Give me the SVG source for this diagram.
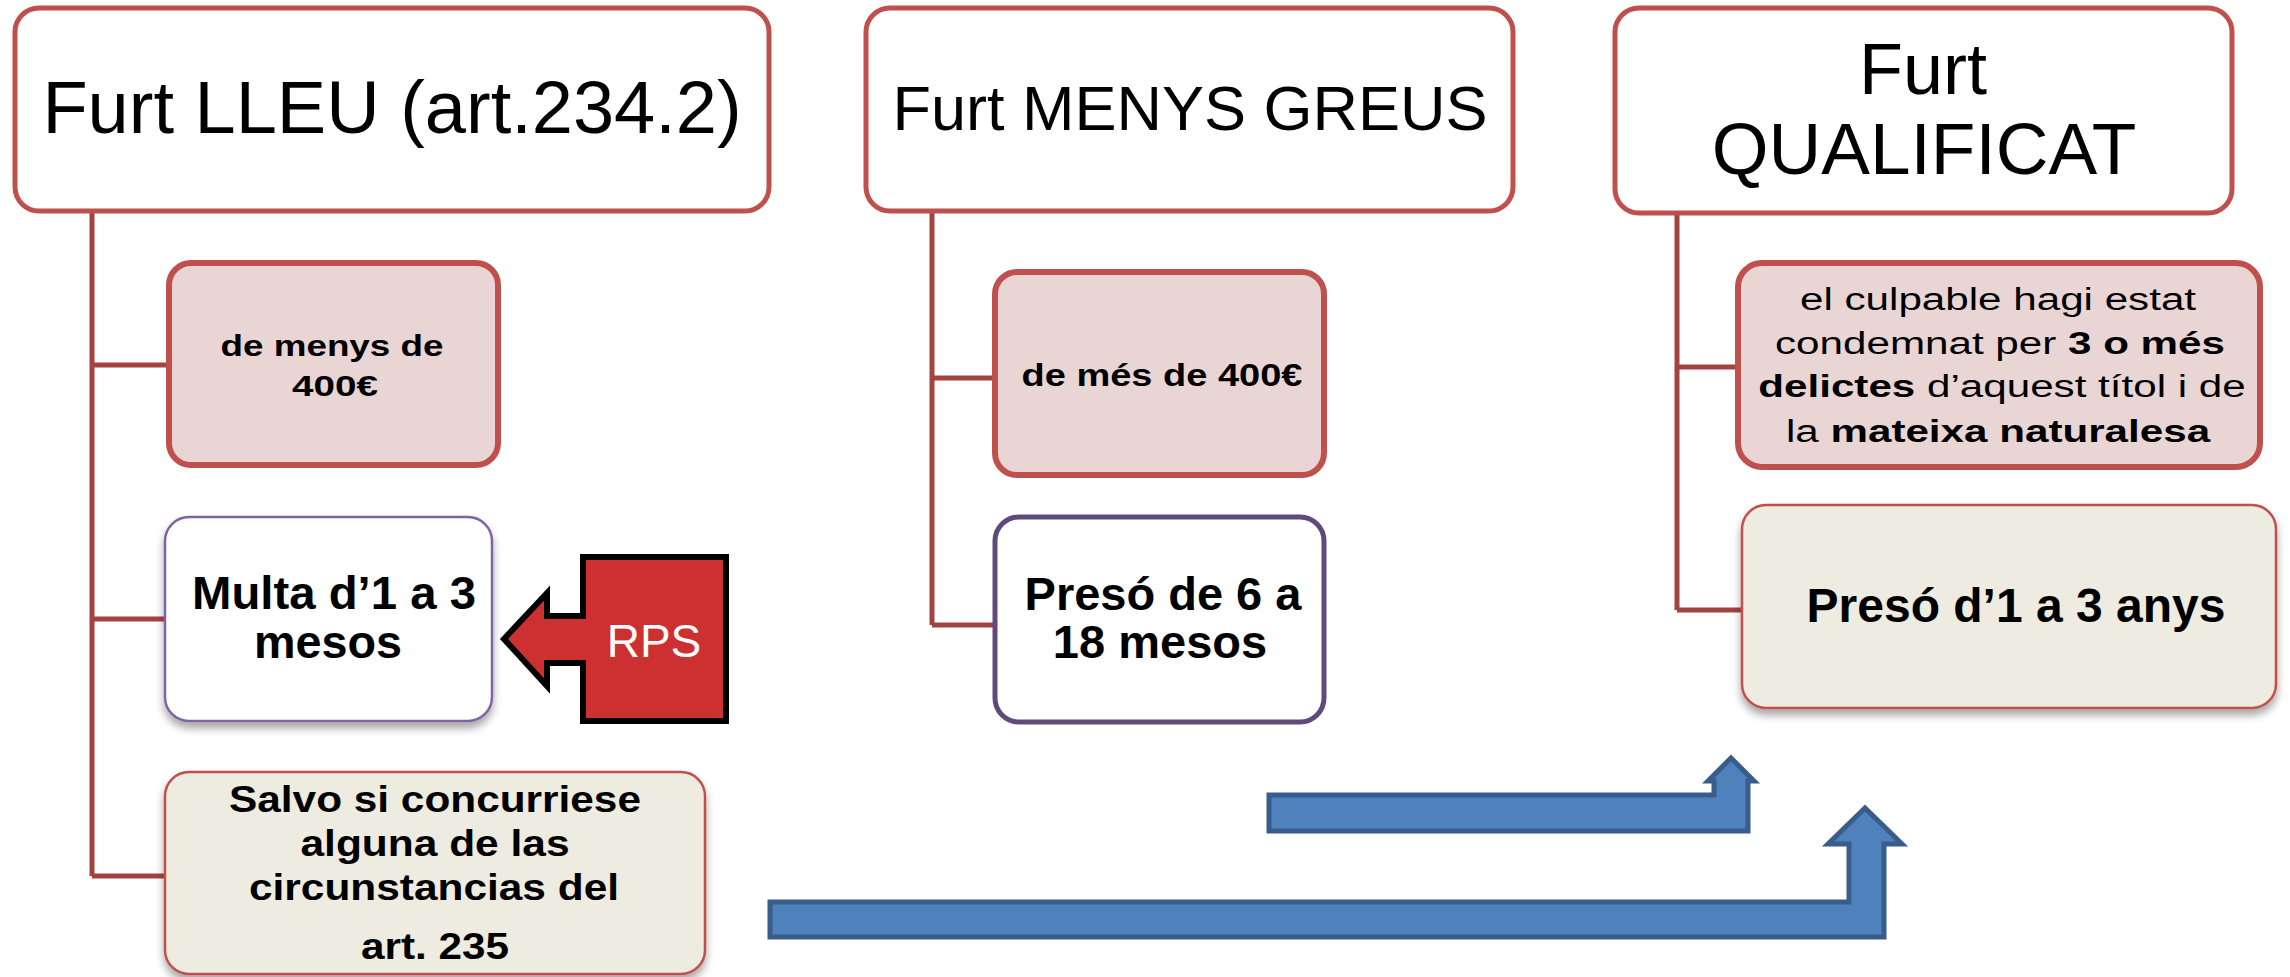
<svg xmlns="http://www.w3.org/2000/svg" width="2290" height="977" viewBox="0 0 2290 977">
<defs>
<style>
.title{font-family:"Liberation Sans",Arial,sans-serif;fill:#000;text-anchor:middle}
.b{font-family:"Liberation Sans",Arial,sans-serif;font-weight:bold;fill:#000;text-anchor:middle}
.r{font-family:"Liberation Sans",Arial,sans-serif;fill:#000;text-anchor:middle}
.top{fill:#fff;stroke:#C0504D;stroke-width:5}
.pink{fill:#EAD5D5;stroke:#C0504D;stroke-width:6}
.beige{fill:#EEEBE0;stroke:#C0504D;stroke-width:2.5}
.conn{stroke:#A3433F;stroke-width:5;fill:none}
.blue{fill:#4F81BD;stroke:#385D8A;stroke-width:5;stroke-linejoin:miter}
</style>
<filter id="sh" x="-10%" y="-10%" width="120%" height="125%">
<feDropShadow dx="0" dy="6" stdDeviation="4" flood-color="#000" flood-opacity="0.35"/>
</filter>
</defs>
<rect width="2290" height="977" fill="#fff"/>

<g id="connectors">
<path class="conn" d="M92 211 V876 M92 365 H169 M92 619 H165 M92 876 H165"/>
<path class="conn" d="M932 211 V625 M932 378 H995 M932 625 H995"/>
<path class="conn" d="M1677 213 V610 M1677 367 H1738 M1677 610 H1742"/>
</g>

<g id="node-furt-lleu">
<rect class="top" x="15" y="8" width="754" height="203" rx="24"/>
<text class="title" x="392" y="133" font-size="74">Furt LLEU (art.234.2)</text>
</g>

<g id="node-menys-400">
<rect class="pink" x="169" y="263" width="329" height="202" rx="22"/>
<text class="b" x="332" y="356" font-size="30" textLength="223" lengthAdjust="spacingAndGlyphs">de menys de</text>
<text class="b" x="335" y="396" font-size="30" textLength="86" lengthAdjust="spacingAndGlyphs">400€</text>
</g>

<g id="node-multa">
<rect x="165" y="517" width="327" height="204" rx="24" fill="#fff" stroke="#8064A2" stroke-width="2.5" filter="url(#sh)"/>
<text class="b" x="334" y="609" font-size="46" textLength="284" lengthAdjust="spacingAndGlyphs">Multa d’1 a 3</text>
<text class="b" x="328" y="658" font-size="46" textLength="148" lengthAdjust="spacingAndGlyphs">mesos</text>
</g>

<g id="node-rps">
<path d="M583 557 H726 V721 H583 V663 H547 V686 L504 639 L547 593 V616 H583 Z" fill="#CC3030" stroke="#000" stroke-width="6" stroke-linejoin="miter"/>
<text class="r" x="654" y="657" font-size="46" style="fill:#fff">RPS</text>
</g>

<g id="node-salvo">
<rect class="beige" x="165" y="772" width="540" height="202" rx="24" filter="url(#sh)"/>
<text class="b" x="435" y="812" font-size="36" textLength="412" lengthAdjust="spacingAndGlyphs">Salvo si concurriese</text>
<text class="b" x="435" y="856" font-size="36" textLength="269" lengthAdjust="spacingAndGlyphs">alguna de las</text>
<text class="b" x="434" y="900" font-size="36" textLength="370" lengthAdjust="spacingAndGlyphs">circunstancias del</text>
<text class="b" x="435" y="959" font-size="36" textLength="148" lengthAdjust="spacingAndGlyphs">art. 235</text>
</g>

<g id="node-furt-menys-greus">
<rect class="top" x="866" y="8" width="647" height="203" rx="24"/>
<text class="title" x="1190" y="130" font-size="63">Furt MENYS GREUS</text>
</g>

<g id="node-mes-400">
<rect class="pink" x="995" y="272" width="329" height="203" rx="22"/>
<text class="b" x="1162" y="386" font-size="31" textLength="281" lengthAdjust="spacingAndGlyphs">de més de 400€</text>
</g>

<g id="node-preso-6-18">
<rect x="995" y="517" width="329" height="205" rx="24" fill="#fff" stroke="#604A7B" stroke-width="5"/>
<text class="b" x="1163" y="610" font-size="47">Presó de 6 a</text>
<text class="b" x="1160" y="658" font-size="47">18 mesos</text>
</g>

<g id="node-furt-qualificat">
<rect class="top" x="1615" y="8" width="617" height="205" rx="24"/>
<text class="title" x="1923" y="94" font-size="72">Furt</text>
<text class="title" x="1924" y="174" font-size="73">QUALIFICAT</text>
</g>

<g id="node-culpable">
<rect class="pink" x="1738" y="263" width="522" height="204" rx="24"/>
<text class="r" transform="translate(1998,310) scale(1.36,1)" font-size="31">el culpable hagi estat</text>
<text class="r" transform="translate(2000,354) scale(1.36,1)" font-size="31">condemnat per <tspan font-weight="bold">3 o més</tspan></text>
<text class="r" transform="translate(2002,397) scale(1.36,1)" font-size="31"><tspan font-weight="bold">delictes</tspan> d’aquest títol i de</text>
<text class="r" transform="translate(1998,442) scale(1.36,1)" font-size="31">la <tspan font-weight="bold">mateixa naturalesa</tspan></text>
</g>

<g id="node-preso-1-3">
<rect class="beige" x="1742" y="505" width="534" height="203" rx="24" filter="url(#sh)"/>
<text class="b" x="2016" y="622" font-size="48">Presó d’1 a 3 anys</text>
</g>

<g id="arrows">
<path class="blue" d="M1269 795 H1714 V781 H1708 L1731 758 L1754 781 H1748 V831 H1269 Z"/>
<path class="blue" d="M770 902 H1849 V844 H1828 L1865 808 L1902 844 H1884 V937 H770 Z"/>
</g>
</svg>
